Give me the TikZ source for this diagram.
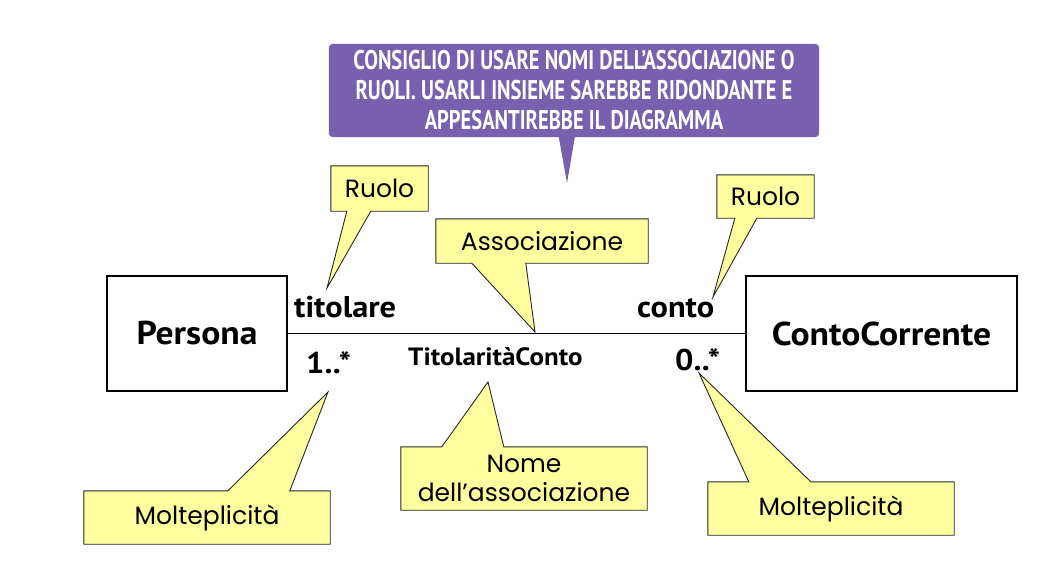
\documentclass[tikz,border=0pt]{standalone}
\usepackage{fontspec}
\usepackage{xcolor}
\usetikzlibrary{positioning, calc, backgrounds}
\newfontfamily\umlfont{PT Sans}[FakeStretch=1.08]
\newfontfamily\notefont{Poppins}
\newfontfamily\advicefont{PT Sans}[FakeStretch=0.76]
\definecolor{noteyellow}{RGB}{255,255,160}
\definecolor{advicepurple}{RGB}{119,97,174}
\tikzset{
  classbox/.style={draw, line width=2.2pt, minimum height=115pt, inner sep=0pt, font=\umlfont\bfseries\fontsize{33}{38}\selectfont},
  assoc/.style={line width=1.6pt},
  endlabel/.style={inner sep=0pt, font=\umlfont\bfseries\fontsize{30}{36}\selectfont},
  assocname/.style={inner sep=0pt, font=\umlfont\bfseries\fontsize{25}{30}\selectfont},
  note/.style={inner sep=0pt, align=center, font=\notefont\fontsize{25}{29}\selectfont},
  notebody/.style={fill=noteyellow, draw=black!85, line width=0.9pt, line join=miter},
  advice/.style={inner sep=0pt, align=center, text=white, font=\advicefont\bfseries\fontsize{27}{30}\selectfont},
  advicebody/.style={fill=advicepurple, rounded corners=4pt}
}
\begin{document}
\begin{tikzpicture}[x=1pt, y=-1pt]
    \useasboundingbox (0,0) rectangle (1042,576);

    \node[classbox, minimum width=180pt] (persona) at (197,333.5) {Persona};
    \node[classbox, minimum width=271pt] (contocorrente) at (881.5,333.5) {ContoCorrente};
    \draw[assoc] (persona) -- (contocorrente);

    \node[endlabel, anchor=base west] (titolare) at (294,317) {titolare};
    \node[endlabel, anchor=base west] (molta) at (306,373) {1..*};
    \node[assocname, anchor=base west] (titolarita) at (408,365) {TitolaritàConto};
    \node[endlabel, anchor=base west] (conto) at (637,317) {conto};
    \node[endlabel, anchor=base west] (moltb) at (675,370) {0..*};

    \node[advice, minimum width=490pt, minimum height=93pt] (consiglio) at (574,90.5)
        {CONSIGLIO DI USARE NOMI DELL’ASSOCIAZIONE O\\RUOLI. USARLI INSIEME SAREBBE RIDONDANTE E\\APPESANTIREBBE IL DIAGRAMMA};
    \node[note, minimum width=97pt, minimum height=45pt] (ruoloa) at (379.5,188.5) {Ruolo};
    \node[note, minimum width=212pt, minimum height=44pt] (associazione) at (542,241) {Associazione};
    \node[note, minimum width=97pt, minimum height=43pt] (ruolob) at (765.5,196.5) {Ruolo};
    \node[note, minimum width=246pt, minimum height=53pt] (molteplicitaa) at (207,517.5) {Molteplicità};
    \node[note, minimum width=246pt, minimum height=63pt] (nome) at (524,478.5) {Nome\\dell’associazione};
    \node[note, minimum width=246pt, minimum height=53pt] (molteplicitab) at (831,508.5) {Molteplicità};

    \coordinate (consiglio tip) at (567,183);
    \coordinate (ruoloa tip) at (327,288);
    \coordinate (associazione tip) at (535,332);
    \coordinate (ruolob tip) at (713,297);
    \coordinate (molteplicitaa tip) at (328,392);
    \coordinate (nome tip) at (488,382);
    \coordinate (molteplicitab tip) at (699,373);

    \begin{scope}[on background layer]
        \fill[advicebody] (consiglio.south west) rectangle (consiglio.north east);
        \fill[advicepurple] ($(consiglio.south west)+(230,0)$) -- (consiglio tip) -- ($(consiglio.south west)+(246,0)$) -- cycle;
        \draw[notebody] (ruoloa.north west) -- (ruoloa.north east) -- (ruoloa.south east) -- ($(ruoloa.south west)+(40,0)$) -- (ruoloa tip) -- ($(ruoloa.south west)+(16,0)$) -- (ruoloa.south west) -- cycle;
        \draw[notebody] (associazione.north west) -- (associazione.north east) -- (associazione.south east) -- ($(associazione.south west)+(90,0)$) -- (associazione tip) -- ($(associazione.south west)+(36,0)$) -- (associazione.south west) -- cycle;
        \draw[notebody] (ruolob.north west) -- (ruolob.north east) -- (ruolob.south east) -- ($(ruolob.south west)+(40,0)$) -- (ruolob tip) -- ($(ruolob.south west)+(18,0)$) -- (ruolob.south west) -- cycle;
        \draw[notebody] (molteplicitaa.south west) -- (molteplicitaa.south east) -- (molteplicitaa.north east) -- ($(molteplicitaa.north west)+(206,0)$) -- (molteplicitaa tip) -- ($(molteplicitaa.north west)+(144,0)$) -- (molteplicitaa.north west) -- cycle;
        \draw[notebody] (nome.south west) -- (nome.south east) -- (nome.north east) -- ($(nome.north west)+(103,0)$) -- (nome tip) -- ($(nome.north west)+(41,0)$) -- (nome.north west) -- cycle;
        \draw[notebody] (molteplicitab.south west) -- (molteplicitab.south east) -- (molteplicitab.north east) -- ($(molteplicitab.north west)+(103,0)$) -- (molteplicitab tip) -- ($(molteplicitab.north west)+(41,0)$) -- (molteplicitab.north west) -- cycle;
    \end{scope}
\end{tikzpicture}
\end{document}
